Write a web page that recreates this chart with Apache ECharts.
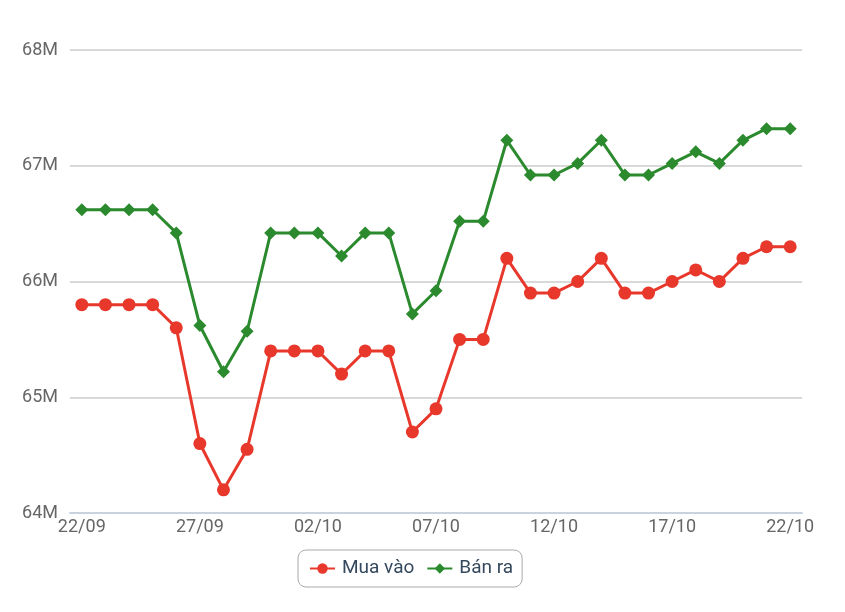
<!DOCTYPE html>
<html>
<head>
<meta charset="utf-8">
<script src="https://cdn.jsdelivr.net/npm/echarts@6/dist/echarts.min.js"></script>
<style>
html,body{margin:0;padding:0;background:#fff;}
#c{width:845px;height:612px;}
</style>
</head>
<body>
<div id="c"></div>
<script>
const categories = ['22/09','23/09','24/09','25/09','26/09','27/09','28/09','29/09','30/09','01/10','02/10','03/10','04/10','05/10','06/10','07/10','08/10','09/10','10/10','11/10','12/10','13/10','14/10','15/10','16/10','17/10','18/10','19/10','20/10','21/10','22/10'];
const muaVao = [65.8,65.8,65.8,65.8,65.6,64.6,64.2,64.55,65.4,65.4,65.4,65.2,65.4,65.4,64.7,64.9,65.5,65.5,66.2,65.9,65.9,66.0,66.2,65.9,65.9,66.0,66.1,66.0,66.2,66.3,66.3];
const banRa = [66.62,66.62,66.62,66.62,66.42,65.62,65.22,65.57,66.42,66.42,66.42,66.22,66.42,66.42,65.72,65.92,66.52,66.52,67.22,66.92,66.92,67.02,67.22,66.92,66.92,67.02,67.12,67.02,67.22,67.32,67.32];
const seriesNames = ['Mua vào','Bán ra'];

const chart = echarts.init(document.getElementById('c'));
chart.setOption({
  animation:false,
  textStyle:{fontFamily:'Roboto'},
  grid:{left:70,right:43,top:50,bottom:99,containLabel:false},
  legend:{
    data:seriesNames,
    left:298, top:550,
    padding:[9,9,9,11],
    itemWidth:25, itemHeight:13, itemGap:12,
    borderColor:'#aaa', borderWidth:1, borderRadius:8,
    textStyle:{fontSize:19,color:'#34495e',fontFamily:'Roboto',padding:[0,0,0,2]}
  },
  xAxis:{
    type:'category',
    data:categories,
    boundaryGap:true,
    axisLine:{lineStyle:{color:'#c8d3df',width:2}},
    axisTick:{interval:0,length:5,lineStyle:{color:'#c8d3df'}},
    axisLabel:{interval:4,color:'#666',fontSize:18,margin:5,fontFamily:'Roboto'}
  },
  yAxis:{
    type:'value',
    min:64, max:68, interval:1,
    axisLine:{show:false}, axisTick:{show:false},
    splitLine:{lineStyle:{color:'#ccc',width:1.5}},
    axisLabel:{color:'#666',fontSize:18,margin:12,fontFamily:'Roboto',formatter:v=>v+'M'}
  },
  series:[
    {name:seriesNames[0],type:'line',data:muaVao,symbol:'circle',symbolSize:13,
     lineStyle:{color:'#e8382c',width:3},itemStyle:{color:'#e8382c'}},
    {name:seriesNames[1],type:'line',data:banRa,symbol:'diamond',symbolSize:13,
     lineStyle:{color:'#2b8a2e',width:3},itemStyle:{color:'#2b8a2e'}}
  ]
});
</script>
</body>
</html>
